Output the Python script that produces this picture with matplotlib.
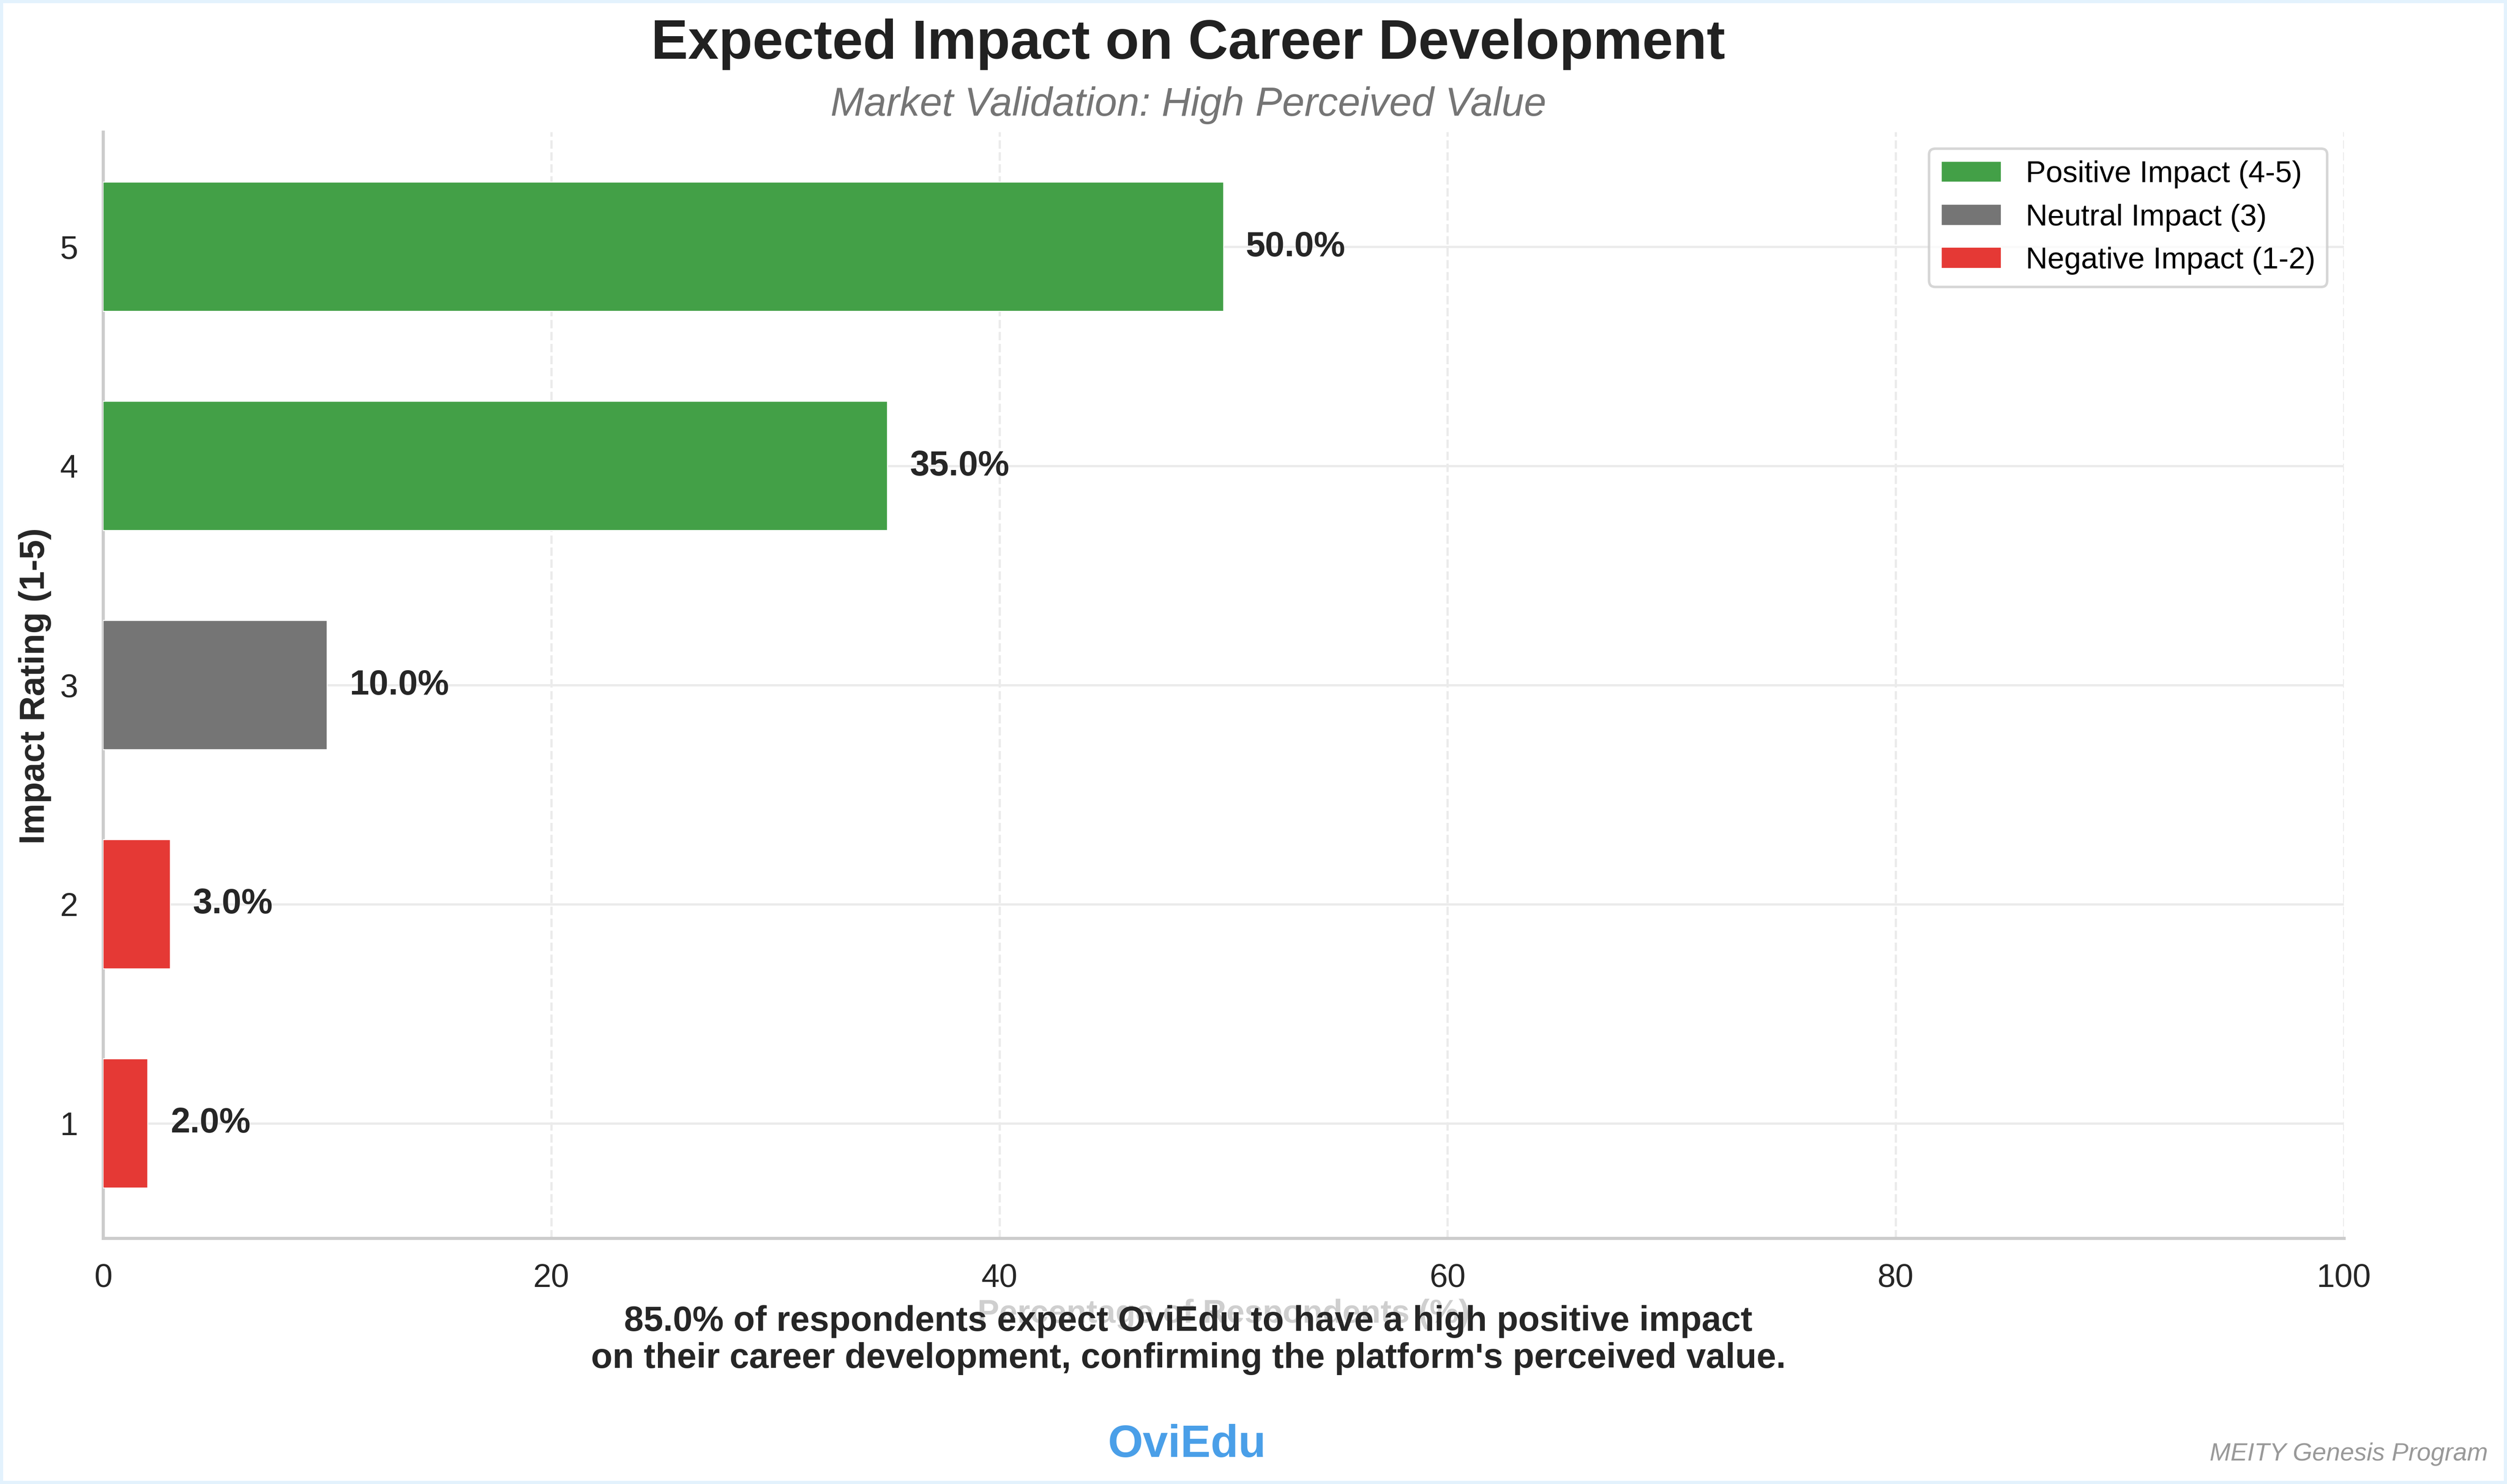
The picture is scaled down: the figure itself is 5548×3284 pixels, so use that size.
import matplotlib
matplotlib.use("Agg")
import matplotlib.pyplot as plt
from matplotlib.patches import Patch

plt.rcParams['font.family'] = ['Liberation Sans', 'DejaVu Sans']

ratings = [1, 2, 3, 4, 5]
percentages = [2.0, 3.0, 10.0, 35.0, 50.0]
bar_colors = ['#E53935', '#E53935', '#757575', '#43A047', '#43A047']
legend_labels = ['Positive Impact (4-5)', 'Neutral Impact (3)', 'Negative Impact (1-2)']
legend_colors = ['#43A047', '#757575', '#E53935']
x_ticks = [0, 20, 40, 60, 80, 100]

title = 'Expected Impact on Career Development'
subtitle = 'Market Validation: High Perceived Value'
insight = ("85.0% of respondents expect OviEdu to have a high positive impact\n"
           "on their career development, confirming the platform's perceived value.")

W, H = 5548, 3284
DPI = 400
fig = plt.figure(figsize=(W / DPI, H / DPI), dpi=DPI)
fig.patch.set_facecolor('white')
fig.patch.set_edgecolor('#E3F2FD')
fig.patch.set_linewidth(2.5)

ax = fig.add_axes([228 / W, 1 - 2740 / H, (5187 - 228) / W, (2740 - 292) / H])
ax.set_axisbelow(True)

ax.barh(ratings, percentages, height=0.59, color=bar_colors,
        edgecolor='white', linewidth=0.4, zorder=3)

for r, p in zip(ratings, percentages):
    ax.text(p + 1, r, f'{p:.1f}%', va='center', ha='left',
            fontsize=14, fontweight='bold', color='#262626', zorder=4)

ax.set_xlim(0, 100)
ax.set_xticks(x_ticks)
ax.set_yticks(ratings)
ax.tick_params(axis='both', length=0, pad=10, labelsize=13, labelcolor='#262626')

ax.grid(axis='x', linestyle='--', color='#EBEBEB', linewidth=0.9, zorder=0)
ax.grid(axis='y', linestyle='-', color='#EBEBEB', linewidth=0.9, zorder=0)

for s in ['top', 'right']:
    ax.spines[s].set_visible(False)
for s in ['left', 'bottom']:
    ax.spines[s].set_color('#CCCCCC')
    ax.spines[s].set_linewidth(1.25)

ax.set_xlabel('Percentage of Respondents (%)', fontsize=13, fontweight='bold',
              color='#CFCFCF', labelpad=2)

handles = [Patch(facecolor=c, edgecolor='white', linewidth=0.4) for c in legend_colors]
ax.legend(handles, legend_labels, loc='upper right', fontsize=12, frameon=True,
          borderaxespad=0.55)

fig.text(0.0139, 0.5378, 'Impact Rating (1-5)', rotation=90, ha='center', va='center',
         fontsize=14, fontweight='bold', color='#262626')

fig.text(0.474, 1 - 130 / H, title, ha='center', va='baseline',
         fontsize=22, fontweight='bold', color='#212121')
fig.text(0.474, 1 - 256 / H, subtitle, ha='center', va='baseline',
         fontsize=16, fontstyle='italic', color='#757575')

fig.text(0.474, 0.097, insight, ha='center', va='center', fontsize=14,
         fontweight='bold', color='#262626', linespacing=1.15)

fig.text(0.4735, 1 - 3224 / H, 'OviEdu', ha='center', va='baseline',
         fontsize=18, fontweight='bold', color='#4A9FE8')
fig.text(0.9924, 1 - 3232 / H, 'MEITY Genesis Program', ha='right', va='baseline',
         fontsize=10, fontstyle='italic', color='#999999')

fig.savefig('out.png', dpi=DPI, facecolor=fig.get_facecolor(), edgecolor=fig.get_edgecolor())
